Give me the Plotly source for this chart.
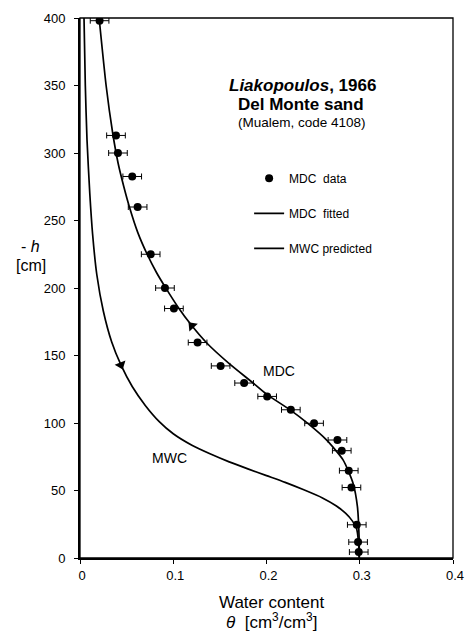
import plotly.graph_objects as go

# MDC measured data (theta, -h)
mdc_theta = [0.021, 0.0386, 0.0407, 0.056, 0.0618, 0.0758, 0.0911, 0.1007, 0.1261, 0.1508,
             0.176, 0.2007, 0.2261, 0.251, 0.2761, 0.2807, 0.2882, 0.2911, 0.2968, 0.2982, 0.2989]
mdc_h = [398, 313, 300, 282.6, 260, 225, 200, 184.8, 159.6, 142.3,
         129.6, 119.7, 109.8, 99.8, 87.4, 79.5, 64.7, 52.2, 24.6, 11.8, 4.4]
mdc_err = [0.01] * len(mdc_theta)

# MDC fitted curve
fit_theta = [0.0205, 0.028, 0.035, 0.041, 0.047, 0.053, 0.062, 0.072, 0.082, 0.0911,
             0.105, 0.12, 0.137, 0.16, 0.185, 0.2007, 0.2257, 0.2446, 0.2643, 0.2821,
             0.2928, 0.2975, 0.2993, 0.2995]
fit_h = [400, 350, 315, 292, 275, 260, 241, 225, 211.5, 201,
         186, 172, 158.5, 144, 130, 121, 109.5, 99.5, 87.5, 72.7,
         55.4, 38, 15, 0]

# MWC predicted curve
mwc_theta = [0.0043, 0.0057, 0.0075, 0.0105, 0.0135, 0.018, 0.025, 0.034, 0.0439, 0.056,
             0.070, 0.085, 0.10, 0.12, 0.14, 0.16, 0.18, 0.20, 0.22, 0.24,
             0.26, 0.275, 0.285, 0.292, 0.2965, 0.2985, 0.2995]
mwc_h = [400, 350, 310, 270, 240, 210, 183, 160, 143, 127,
         113, 101, 92, 83.5, 77, 71.2, 66, 61, 56, 50.5,
         44.5, 38.5, 33, 27.5, 22, 13, 0]

# direction arrows on the curves
arrow_theta = [0.12, 0.0439]
arrow_h = [172, 143]
arrow_symbols = ["triangle-up", "triangle-down"]
arrow_angles = [-43, -21]

x_ticks = [0, 0.1, 0.2, 0.3, 0.4]
x_ticklabels = ["0", "0.1", "0.2", "0.3", "0.4"]
y_ticks = [0, 50, 100, 150, 200, 250, 300, 350, 400]

FONT = "Liberation Sans, Arial, sans-serif"

fig = go.Figure()

fig.add_trace(go.Scatter(
    x=mdc_theta, y=mdc_h, mode="markers", name="MDC\u00a0 data",
    marker=dict(color="black", size=8),
    error_x=dict(type="data", array=mdc_err, color="black", thickness=1, width=3),
    legendgroup="a"))

fig.add_trace(go.Scatter(
    x=fit_theta, y=fit_h, mode="lines", name="MDC\u00a0 fitted",
    line=dict(color="black", width=1.7, shape="spline", smoothing=0.6),
    legendgroup="b"))

fig.add_trace(go.Scatter(
    x=mwc_theta, y=mwc_h, mode="lines", name="MWC predicted",
    line=dict(color="black", width=1.7, shape="spline", smoothing=0.6),
    legendgroup="c"))

fig.add_trace(go.Scatter(
    x=arrow_theta, y=arrow_h, mode="markers", showlegend=False,
    marker=dict(color="black", size=10, symbol=arrow_symbols, angle=arrow_angles)))

axis_common = dict(
    showgrid=False, zeroline=False, showline=True, linecolor="black", linewidth=2,
    ticks="outside", ticklen=4, tickcolor="black", tickwidth=1,
    ticklabeloverflow="allow", automargin=False,
    tickfont=dict(family=FONT, size=13, color="black"))

fig.update_xaxes(range=[0, 0.4], tickvals=x_ticks, ticktext=x_ticklabels,
                 ticklabelshift=2, ticklabelstandoff=0, **axis_common)
fig.update_yaxes(range=[0, 400], tickvals=y_ticks, ticklabelstandoff=6, **axis_common)

annotations = [
    dict(text="<b><i>Liakopoulos</i>, 1966</b>", x=0.596, y=0.8745, size=17),
    dict(text="<b>Del Monte sand</b>", x=0.593, y=0.8394, size=17),
    dict(text="(Mualem, code 4108)", x=0.5947, y=0.8056, size=13.5),
    dict(text="- <i>h</i>", x=(30 - 80) / 373.3, y=(558.3 - 246) / 541.3, size=16),
    dict(text="[cm]", x=(31 - 80) / 373.3, y=(558.3 - 265) / 541.3, size=16),
    dict(text="Water content", x=(272 - 80) / 373.3, y=(558.3 - 602.7) / 541.3, size=17),
    dict(text="<i>θ</i>\u00a0 [cm<sup>3</sup>/cm<sup>3</sup>]", x=(272 - 80) / 373.3,
         y=(558.3 - 621) / 541.3, size=17),
]
ann = []
for a in annotations:
    ann.append(dict(text=a["text"], x=a["x"], y=a["y"], xref="paper", yref="paper",
                    xanchor="center", yanchor="middle", showarrow=False,
                    font=dict(family=FONT, size=a["size"], color="black")))
# curve labels in data coordinates
ann.append(dict(text="MDC", x=0.2133, y=138.4, xref="x", yref="y", showarrow=False,
                font=dict(family=FONT, size=14, color="black")))
ann.append(dict(text="MWC", x=0.0965, y=74.1, xref="x", yref="y", showarrow=False,
                font=dict(family=FONT, size=14, color="black")))

fig.update_layout(
    width=465, height=632,
    margin=dict(l=80, r=11.7, t=17.5, b=73.7, autoexpand=False),
    paper_bgcolor="white", plot_bgcolor="white",
    font=dict(family=FONT, color="black"),
    annotations=ann,
    shapes=[dict(type="rect", xref="paper", yref="paper", x0=0, y0=0, x1=1, y1=1,
                 line=dict(color="black", width=1.3), layer="above")],
    legend=dict(x=0.4534, y=0.73, xanchor="left", yanchor="top",
                traceorder="grouped", tracegroupgap=16, itemwidth=30,
                bgcolor="rgba(0,0,0,0)", font=dict(family=FONT, size=12, color="black")),
)

fig.write_html("out.html", config={"displayModeBar": False},
               post_script="document.body.style.margin='0px';")
